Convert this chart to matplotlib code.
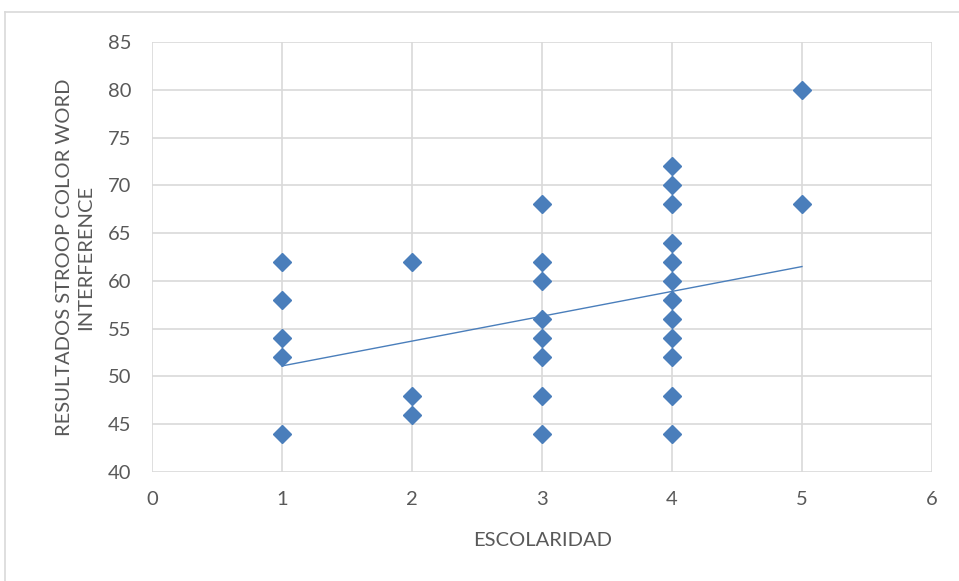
import numpy as np
import matplotlib
matplotlib.use("Agg")
import matplotlib.pyplot as plt
from matplotlib.lines import Line2D

# escolaridad level -> stroop interference scores
x_level_1 = [1, 1, 1, 1, 1]
y_level_1 = [62, 58, 54, 52, 44]
x_level_2 = [2, 2, 2]
y_level_2 = [62, 48, 46]
x_level_3 = [3, 3, 3, 3, 3, 3, 3, 3]
y_level_3 = [68, 62, 60, 56, 54, 52, 48, 44]
x_level_4 = [4, 4, 4, 4, 4, 4, 4, 4, 4, 4, 4, 4]
y_level_4 = [72, 70, 68, 64, 62, 60, 58, 56, 54, 52, 48, 44]
x_level_5 = [5, 5]
y_level_5 = [80, 68]

# linear trendline (slope, intercept)
trend_slope = 2.6
trend_intercept = 48.5

x_ticks = [0, 1, 2, 3, 4, 5, 6]
y_ticks = [40, 45, 50, 55, 60, 65, 70, 75, 80, 85]

blue = "#4a7ebb"
grid_gray = "#d9d9d9"
text_gray = "#595959"
plt.rcParams["font.family"] = ["Lato", "DejaVu Sans"]

xs = np.array(x_level_1 + x_level_2 + x_level_3 + x_level_4 + x_level_5)
ys = np.array(y_level_1 + y_level_2 + y_level_3 + y_level_4 + y_level_5)

fig = plt.figure(figsize=(9.59, 5.81), dpi=100)
ax = fig.add_axes([0.1585, 0.1876, 0.8133, 0.7401])

ax.plot(xs, ys, linestyle="none", marker="D", markersize=9.5,
        color=blue, zorder=3)

tx = np.array([xs.min(), xs.max()])
ax.plot(tx, trend_slope * tx + trend_intercept, color=blue,
        linewidth=1.0, zorder=2)

ax.set_xlim(0, 6)
ax.set_ylim(40, 85)
ax.set_xticks(x_ticks)
ax.set_yticks(y_ticks)
ax.grid(True, color=grid_gray, linewidth=1.2, zorder=0)
ax.set_axisbelow(True)
for s in ax.spines.values():
    s.set_visible(False)
ax.tick_params(length=0, labelsize=14.5, labelcolor=text_gray)
ax.tick_params(axis="x", pad=14)
ax.tick_params(axis="y", pad=15)

fig.text(543 / 959, 1 - 541 / 581, "ESCOLARIDAD", fontsize=14.5,
         color=text_gray, ha="center", va="center")
fig.text(75 / 959, 1 - 257 / 581,
         "RESULTADOS STROOP COLOR WORD\nINTERFERENCE", fontsize=14.5,
         color=text_gray, ha="center", va="center", rotation=90,
         linespacing=1.3, multialignment="center")

# chart area frame
fig.add_artist(Line2D([5 / 959, 5 / 959], [0, 1 - 12 / 581],
                      transform=fig.transFigure, color=grid_gray, linewidth=1.2))
fig.add_artist(Line2D([5 / 959, 1], [1 - 12 / 581, 1 - 12 / 581],
                      transform=fig.transFigure, color=grid_gray, linewidth=1.2))

fig.savefig("out.png", dpi=100)
